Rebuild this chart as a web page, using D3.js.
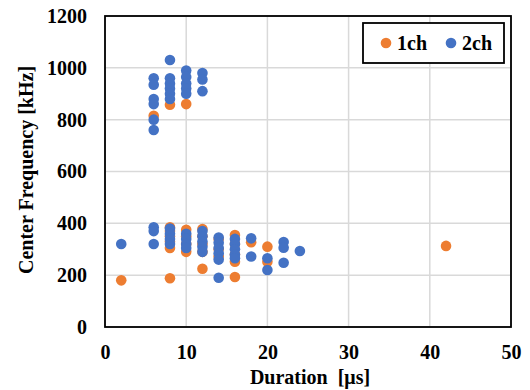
<!DOCTYPE html>
<html>
<head>
<meta charset="utf-8">
<script src="https://cdn.jsdelivr.net/npm/d3@7"></script>
<style>
  body { margin: 0; background: #fff; }
  text { font-family: "Liberation Serif", "Times New Roman", serif; font-weight: bold; fill: #000; }
</style>
</head>
<body>
<svg id="chart" width="530" height="390"></svg>
<script>
// series: [duration (us), center frequency (kHz)]
const series1ch = [
  [2, 180], [6, 815], [8, 858], [10, 860], [8, 188],
  [8, 385], [8, 370], [8, 350], [8, 330], [8, 305],
  [10, 375], [10, 350], [10, 320], [10, 290],
  [12, 378], [12, 350], [12, 320], [12, 290], [12, 225],
  [14, 340], [14, 300], [14, 272],
  [16, 355], [16, 320], [16, 280], [16, 252], [16, 193],
  [18, 327], [20, 310], [20, 252], [42, 313]
];
const series2ch = [
  [6, 960], [6, 935], [6, 880], [6, 860], [6, 800], [6, 760],
  [8, 1030], [8, 960], [8, 940], [8, 920], [8, 900], [8, 880],
  [10, 990], [10, 965], [10, 940], [10, 920], [10, 900],
  [12, 980], [12, 955], [12, 910],
  [2, 320], [6, 385], [6, 370], [6, 320],
  [8, 380], [8, 360], [8, 340], [8, 320],
  [10, 360], [10, 340], [10, 320], [10, 305],
  [12, 370], [12, 350], [12, 330], [12, 310], [12, 290],
  [14, 345], [14, 325], [14, 305], [14, 285], [14, 260], [14, 190],
  [16, 340], [16, 320], [16, 300], [16, 280], [16, 265],
  [18, 342], [18, 272], [20, 265], [20, 220],
  [22, 328], [22, 306], [22, 248], [24, 293]
];
const seriesNames = ['1ch', '2ch'];
const seriesColors = ['#ED7D31', '#4472C4'];
const xTicks = [0, 10, 20, 30, 40, 50];
const yTicks = [0, 200, 400, 600, 800, 1000, 1200];

const svg = d3.select('#chart');
const plotL = 105, plotR = 511, plotT = 16, plotB = 327;

const x = d3.scaleLinear().domain([0, 50]).range([plotL, plotR]);
const y = d3.scaleLinear().domain([0, 1200]).range([plotB, plotT]);

// gridlines
const grid = svg.append('g').attr('id', 'grid');
grid.selectAll('line.gx')
  .data(xTicks)
  .enter()
  .append('line')
  .attr('x1', d => x(d)).attr('x2', d => x(d))
  .attr('y1', plotT).attr('y2', plotB)
  .attr('stroke', '#d9d9d9').attr('stroke-width', 1.5);
grid.selectAll('line.gy')
  .data(yTicks)
  .enter()
  .append('line')
  .attr('x1', plotL).attr('x2', plotR)
  .attr('y1', d => y(d)).attr('y2', d => y(d))
  .attr('stroke', '#d9d9d9').attr('stroke-width', 1.5);

// axes (labels only)
const xAxis = svg.append('g')
  .attr('transform', `translate(0,${plotB})`)
  .call(d3.axisBottom(x).tickValues(xTicks).tickFormat(d3.format('d')).tickSize(0).tickPadding(18));
const yAxis = svg.append('g')
  .attr('transform', `translate(${plotL},0)`)
  .call(d3.axisLeft(y).tickValues(yTicks).tickFormat(d3.format('d')).tickSize(0).tickPadding(18));
[xAxis, yAxis].forEach(a => {
  a.select('.domain').remove();
  a.selectAll('text')
    .style('font-family', '"Liberation Serif", serif')
    .style('font-weight', 'bold')
    .attr('font-size', 20);
});

// points
const allSeries = [series1ch, series2ch];
allSeries.forEach((pts, i) => {
  svg.append('g')
    .selectAll('circle')
    .data(pts)
    .enter()
    .append('circle')
    .attr('cx', d => x(d[0]))
    .attr('cy', d => y(d[1]))
    .attr('r', 5.3)
    .attr('fill', seriesColors[i]);
});

// plot frame
svg.append('rect')
  .attr('x', plotL).attr('y', plotT)
  .attr('width', plotR - plotL).attr('height', plotB - plotT)
  .attr('fill', 'none')
  .attr('stroke', '#000')
  .attr('stroke-width', 1.8);

// axis titles
svg.append('text')
  .attr('x', 310).attr('y', 384)
  .attr('text-anchor', 'middle')
  .attr('font-size', 20)
  .text('Duration\u00a0 [μs]');
svg.append('text')
  .attr('transform', 'translate(33,170) rotate(-90)')
  .attr('text-anchor', 'middle')
  .attr('font-size', 20)
  .text('Center Frequency [kHz]');

// legend
const legend = svg.append('g').attr('id', 'legend');
legend.append('rect')
  .attr('x', 363).attr('y', 23)
  .attr('width', 141).attr('height', 40)
  .attr('fill', '#fff')
  .attr('stroke', '#000')
  .attr('stroke-width', 1.8);
const legendX = [386, 451];
seriesNames.forEach((name, i) => {
  legend.append('circle')
    .attr('cx', legendX[i]).attr('cy', 43)
    .attr('r', 5.3)
    .attr('fill', seriesColors[i]);
  legend.append('text')
    .attr('x', legendX[i] + 11).attr('y', 50)
    .attr('font-size', 20)
    .text(name);
});
</script>
</body>
</html>
